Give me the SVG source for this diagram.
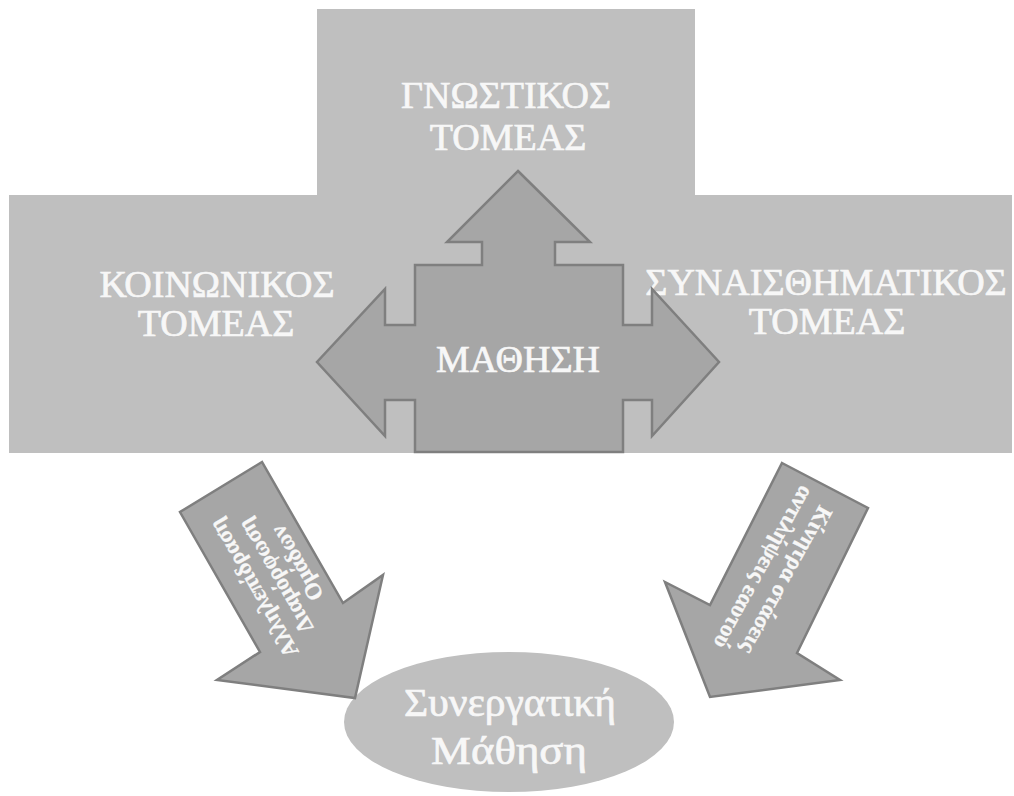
<svg xmlns="http://www.w3.org/2000/svg" width="1014" height="796" viewBox="0 0 1014 796">
  <style>
    .domain { fill: #bfbfbf; }
    .block { fill: #a6a6a6; stroke: #7f7f7f; stroke-width: 2.5; stroke-linejoin: miter; }
    .label { font-family: "Liberation Serif", "Times New Roman", serif; fill: #f7f7f7; stroke: #f7f7f7; stroke-width: 0.7; text-anchor: middle; }
    .big { font-size: 38px; }
    .mid { font-size: 40px; }
    .small { font-size: 23px; font-weight: bold; stroke-width: 0.3; }
  </style>
  <rect width="1014" height="796" fill="#ffffff"/>

  <!-- cognitive domain (top block) -->
  <g id="node-gnostikos">
    <rect class="domain" x="317" y="9" width="378" height="190"/>
    <text class="label big" x="506" y="108">ΓΝΩΣΤΙΚΟΣ</text>
    <text class="label big" x="508" y="150">ΤΟΜΕΑΣ</text>
  </g>

  <!-- social domain (left half of the band) -->
  <g id="node-koinonikos">
    <rect class="domain" x="9" y="195" width="510" height="258"/>
    <text class="label big" x="217" y="297">ΚΟΙΝΩΝΙΚΟΣ</text>
    <text class="label big" x="216" y="336">ΤΟΜΕΑΣ</text>
  </g>

  <!-- affective domain (right half of the band) -->
  <g id="node-synaisthimatikos">
    <rect class="domain" x="517" y="195" width="495" height="258"/>
    <text class="label big" x="826" y="295">ΣΥΝΑΙΣΘΗΜΑΤΙΚΟΣ</text>
    <text class="label big" x="827" y="334">ΤΟΜΕΑΣ</text>
  </g>

  <!-- learning: left-right-up block arrow -->
  <g id="node-mathisi">
    <path class="block" d="M518,171 L590,242 L555,242 L555,265 L623,265 L623,325 L652,325 L652,289 L719,362 L652,436 L652,400 L623,400 L623,452 L415,452 L415,400 L385,400 L385,436 L317,362 L385,289 L385,325 L415,325 L415,265 L482,265 L482,242 L447,242 Z"/>
    <text class="label big" x="518" y="372">ΜΑΘΗΣΗ</text>
  </g>

  <!-- collaborative learning outcome -->
  <g id="node-synergatiki">
    <ellipse class="domain" cx="509" cy="722" rx="165" ry="70"/>
    <text class="label mid" x="510" y="716" textLength="212" lengthAdjust="spacingAndGlyphs">Συνεργατική</text>
    <text class="label mid" x="509" y="764" textLength="156" lengthAdjust="spacingAndGlyphs">Μάθηση</text>
  </g>

  <!-- block arrows leading into the outcome -->
  <g id="connectors">
    <g id="edge-social">
      <path class="block" d="M262,462 L180,512 L260,652 L217,680 L355,698 L383,575 L343,603 Z"/>
      <g transform="translate(275,576) rotate(240)">
        <text class="label small" x="0" y="-17">Αλληλεπίδραση</text>
        <text class="label small" x="0" y="8">Διαμόρφωση</text>
        <text class="label small" x="0" y="33">Ομάδων</text>
      </g>
    </g>
    <g id="edge-affective">
      <path class="block" d="M782,463 L868,508 L797,653 L840,680 L710,697 L665,582 L710,605 Z"/>
      <g transform="translate(775.5,574) rotate(119)">
        <text class="label small" x="0" y="-5">Κίνητρα στάσεις</text>
        <text class="label small" x="0" y="21">αντιλήψεις εαυτού</text>
      </g>
    </g>
  </g>
</svg>
